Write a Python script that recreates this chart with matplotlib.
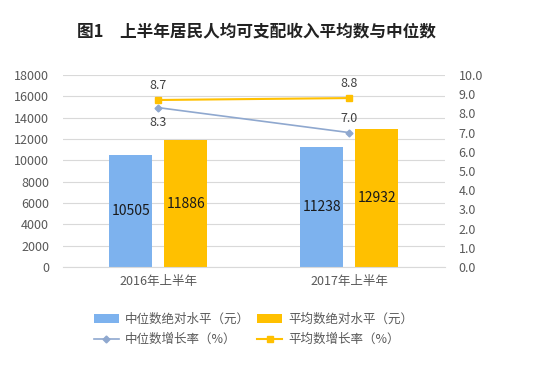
import matplotlib.pyplot as plt
import numpy as np

plt.rcParams['font.family'] = ['Noto Sans CJK SC', 'DejaVu Sans']

# 数据
categories = ['2016年上半年', '2017年上半年']
median_level = [10505, 11238]
mean_level = [11886, 12932]
median_growth = [8.3, 7.0]
mean_growth = [8.7, 8.8]

blue = '#7DB2EE'
gold = '#FFC000'
line_blue = '#8FA8CF'
grey_txt = '#595959'

fig = plt.figure(figsize=(5.34, 3.66), dpi=100)
ax = fig.add_axes([0.118, 0.2705, 0.715, 0.5245])
ax2 = ax.twinx()

x = np.arange(len(categories))
w = 0.225
off = 0.144
b1 = ax.bar(x - off, median_level, w, color=blue, zorder=2)
b2 = ax.bar(x + off, mean_level, w, color=gold, zorder=2)

for rect, v in zip(list(b1) + list(b2), median_level + mean_level):
    ax.text(rect.get_x() + rect.get_width() / 2, v / 2, str(v),
            ha='center', va='center', fontsize=10, color='#1a1a1a')

ax.set_ylim(0, 18000)
ax.set_yticks(range(0, 18001, 2000))
ax.set_xlim(-0.5, 1.5)
ax.set_xticks(x)
ax.set_xticklabels(categories)
ax.grid(axis='y', color='#D9D9D9', linewidth=0.8, zorder=0)
ax.set_axisbelow(True)

# 增长率折线画在类别中心
ax2.plot(x, median_growth, color=line_blue, marker='D', markersize=3.5,
         linewidth=1.2, zorder=3)
ax2.plot(x, mean_growth, color=gold, marker='s', markersize=4.5,
         linewidth=1.5, zorder=3)
ax2.set_ylim(0, 10)
ax2.set_yticks(np.arange(0, 10.01, 1.0))
ax2.set_yticklabels([f'{v:.1f}' for v in np.arange(0, 10.01, 1.0)])

ax2.text(x[0], median_growth[0] - 0.45, f'{median_growth[0]:.1f}',
         ha='center', va='top', fontsize=9, color='#404040')
ax2.text(x[1], median_growth[1] + 0.4, f'{median_growth[1]:.1f}',
         ha='center', va='bottom', fontsize=9, color='#404040')
for xi, v in zip(x, mean_growth):
    ax2.text(xi, v + 0.4, f'{v:.1f}', ha='center', va='bottom', fontsize=9,
             color='#404040')

for a in (ax, ax2):
    for s in a.spines.values():
        s.set_visible(False)
    a.tick_params(length=0, colors=grey_txt, labelsize=9)
ax.spines['bottom'].set_visible(True)
ax.spines['bottom'].set_color('#D9D9D9')
ax.tick_params(axis='x', pad=6)
ax.tick_params(axis='y', pad=10)
ax2.tick_params(axis='y', pad=10)

fig.text(0.48, 0.915, '图1　上半年居民人均可支配收入平均数与中位数',
         ha='center', va='center', fontsize=12, fontweight='bold', color='#222222')

handles = [b1, ax2.lines[0], b2, ax2.lines[1]]
labels = ['中位数绝对水平（元）', '中位数增长率（%）', '平均数绝对水平（元）', '平均数增长率（%）']
leg = fig.legend(handles, labels, ncol=2, loc='center', bbox_to_anchor=(0.475, 0.1),
                 frameon=False, fontsize=9, handlelength=2.0, handletextpad=0.5,
                 columnspacing=0.6, labelspacing=0.6)
for t in leg.get_texts():
    t.set_color(grey_txt)

fig.savefig('out.png', dpi=100)
